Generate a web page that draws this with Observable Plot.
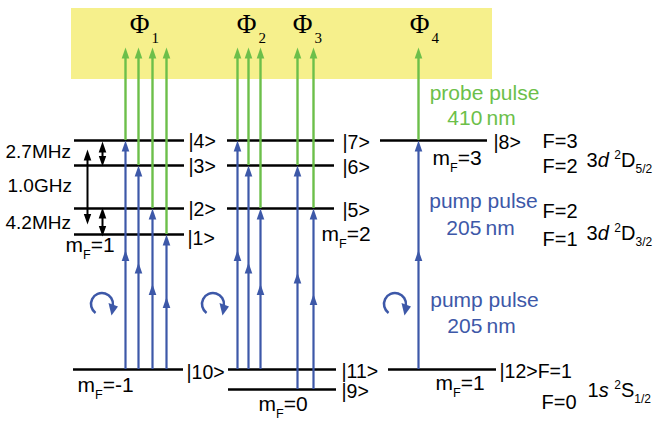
<!DOCTYPE html>
<html><head><meta charset="utf-8">
<script src="https://cdn.jsdelivr.net/npm/d3@7"></script>
<script src="https://cdn.jsdelivr.net/npm/@observablehq/plot@0.6"></script>
<style>html,body{margin:0;padding:0;background:#fff}#chart svg{display:block}</style>
</head><body><div id="chart"></div>
<script>
// ---- energies (diagram units, larger = lower on page) ----
const E = {D52_F3: 140, D52_F2: 165, D32_F2: 208, D32_F1: 234, S12_F1: 369, S12_F0: 389, ion: 47};

// detection region
const detectBox = [{x1: 71, x2: 492, y1: 8, y2: 79}];

// hyperfine sub-levels (horizontal lines)
const levelLines = [
  {x1: 74, x2: 184, y: E.D52_F3}, {x1: 74, x2: 184, y: E.D52_F2},
  {x1: 74, x2: 184, y: E.D32_F2}, {x1: 74, x2: 184, y: E.D32_F1},
  {x1: 73, x2: 183, y: E.S12_F1},
  {x1: 227, x2: 334, y: E.D52_F3}, {x1: 227, x2: 334, y: E.D52_F2},
  {x1: 227, x2: 334, y: E.D32_F2},
  {x1: 228, x2: 336, y: E.S12_F1}, {x1: 228, x2: 336, y: E.S12_F0},
  {x1: 380, x2: 487, y: E.D52_F3},
  {x1: 388, x2: 496, y: E.S12_F1}
];

// two-photon pump transitions (blue) 205 nm
const pumps = [
  {x: 125, from: E.S12_F1, to: E.D52_F3}, {x: 138, from: E.S12_F1, to: E.D52_F2},
  {x: 152, from: E.S12_F1, to: E.D32_F2}, {x: 166, from: E.S12_F1, to: E.D32_F1},
  {x: 237, from: E.S12_F1, to: E.D52_F3}, {x: 248, from: E.S12_F1, to: E.D52_F2},
  {x: 260, from: E.S12_F1, to: E.D32_F2},
  {x: 297, from: E.S12_F0, to: E.D52_F2}, {x: 313, from: E.S12_F0, to: E.D32_F2},
  {x: 418, from: E.S12_F1, to: E.D52_F3}
];

// probe ionisation transitions (green) 410 nm
const probes = pumps.map(p => ({x: p.x, from: p.to, to: E.ion}));

// hyperfine splitting markers
const splitArrows = [
  {x: 102, y1: 141, y2: 166}, {x: 87, y1: 149, y2: 224}, {x: 102, y1: 207, y2: 236}
];
const splitLabels = [
  {x: 5, y: 151, text: "2.7MHz"}, {x: 7, y: 185, text: "1.0GHz"}, {x: 5, y: 222, text: "4.2MHz"}
];

// circular polarisation symbols
const curls = [{x: 101.5, y: 303.5}, {x: 212.5, y: 303.5}, {x: 394.5, y: 303.5}];

// labels
const ketLabels = [
  {x: 188, y: 141, text: "|4>"}, {x: 188, y: 166, text: "|3>"}, {x: 188, y: 209, text: "|2>"},
  {x: 187, y: 238, text: "|1>"}, {x: 186, y: 372, text: "|10>"},
  {x: 342, y: 142, text: "|7>"}, {x: 342, y: 167, text: "|6>"}, {x: 342, y: 210, text: "|5>"},
  {x: 341, y: 371, text: "|11>"}, {x: 341, y: 391, text: "|9>"},
  {x: 493, y: 142, text: "|8>"}, {x: 499, y: 371, text: "|12>F=1"}
];
const fLabels = [
  {x: 542, y: 141, text: "F=3"}, {x: 542, y: 166, text: "F=2"},
  {x: 542, y: 211, text: "F=2"}, {x: 542, y: 239, text: "F=1"},
  {x: 541, y: 402, text: "F=0"}
];
const termLabels = [
  {x: 586, y: 160, text: "3*d* ^{2}D_{5/2}"},
  {x: 586, y: 233, text: "3*d* ^{2}D_{3/2}"},
  {x: 587, y: 390, text: "1*s* ^{2}S_{1/2}"}
];
const mfLabels = [
  {x: 65, y: 245, text: "m_{F}=1"}, {x: 77, y: 385, text: "m_{F}=-1"},
  {x: 321, y: 234, text: "m_{F}=2"}, {x: 258, y: 404, text: "m_{F}=0"},
  {x: 432, y: 158, text: "m_{F}=3"}, {x: 435, y: 383, text: "m_{F}=1"}
];
const probeLabels = [{x: 484, y: 93, text: "probe pulse"}, {x: 481, y: 118, text: "410\u2009nm"}];
const pumpLabels = [
  {x: 483, y: 201, text: "pump pulse"}, {x: 480, y: 228, text: "205\u2009nm"},
  {x: 484, y: 300, text: "pump pulse"}, {x: 481, y: 326, text: "205\u2009nm"}
];
const phiLabels = [{x: 139, sub: "1"}, {x: 246, sub: "2"}, {x: 302, sub: "3"}, {x: 419, sub: "4"}];

// ---- styles ----
const BLUE = "#3d58a8", GREEN = "#6cbf4a", YELLOW = "#f6f08c";
const SANS = "Liberation Sans, Arial, Helvetica, sans-serif";
const SERIF = "Liberation Serif, Times New Roman, serif";

const headUp = {draw(c) { c.moveTo(0, 0); c.lineTo(3.8, 11); c.lineTo(-3.8, 11); c.closePath(); }};
const headDown = {draw(c) { c.moveTo(0, 0); c.lineTo(3.7, -10.5); c.lineTo(-3.7, -10.5); c.closePath(); }};
const curlArc = {draw(c) { const r = 11, a0 = 126 * Math.PI / 180, a1 = 367 * Math.PI / 180;
  c.moveTo(r * Math.cos(a0), r * Math.sin(a0)); c.arc(0, 0, r, a0, a1); }};
const curlHead = {draw(c) { c.moveTo(6.5, -1); c.lineTo(16, 2.5); c.lineTo(9.5, 11.5); c.closePath(); }};

const txt = (data, o) => Plot.text(data, {x: "x", y: "y", text: "text", textAnchor: "start",
  fontFamily: SANS, fill: "black", ...o});

const chart = Plot.plot({
  width: 659, height: 422,
  marginTop: 0, marginRight: 0, marginBottom: 0, marginLeft: 0,
  x: {domain: [0, 659], range: [0, 659], axis: null},
  y: {domain: [0, 422], range: [0, 422], axis: null},
  marks: [
    Plot.rect(detectBox, {x1: "x1", x2: "x2", y1: "y1", y2: "y2", fill: YELLOW}),
    Plot.ruleY(levelLines, {y: "y", x1: "x1", x2: "x2", stroke: "black", strokeWidth: 2.6}),
    // probe (green)
    Plot.ruleX(probes, {x: "x", y1: "from", y2: d => d.to + 6, stroke: GREEN, strokeWidth: 2.4}),
    Plot.dot(probes, {x: "x", y: "to", symbol: headUp, r: 4, fill: GREEN, stroke: "none"}),
    // pump (blue)
    Plot.ruleX(pumps, {x: "x", y1: "from", y2: d => d.to + 6, stroke: BLUE, strokeWidth: 2.2}),
    Plot.dot(pumps, {x: "x", y: "to", symbol: headUp, r: 4, fill: BLUE, stroke: "none"}),
    Plot.dot(pumps, {x: "x", y: d => (d.from + d.to) / 2 - 5, symbol: headUp, r: 4, fill: BLUE, stroke: "none"}),
    // splitting arrows
    Plot.ruleX(splitArrows, {x: "x", y1: d => d.y1 + 5, y2: d => d.y2 - 5, stroke: "black", strokeWidth: 2}),
    Plot.dot(splitArrows, {x: "x", y: "y1", symbol: headUp, r: 4, fill: "black", stroke: "none"}),
    Plot.dot(splitArrows, {x: "x", y: "y2", symbol: headDown, r: 4, fill: "black", stroke: "none"}),
    // polarisation curls
    Plot.dot(curls, {x: "x", y: "y", symbol: curlArc, r: 4, fill: "none", stroke: BLUE, strokeWidth: 2.5}),
    Plot.dot(curls, {x: "x", y: "y", symbol: curlHead, r: 4, fill: BLUE, stroke: "none"}),
    // labels
    txt(splitLabels, {fontSize: 19}),
    txt(ketLabels, {fontSize: 19.5}),
    txt(fLabels, {fontSize: 20}),
    txt(termLabels, {fontSize: 20}),
    txt(mfLabels, {fontSize: 21}),
    txt(probeLabels, {fontSize: 21, fill: GREEN, textAnchor: "middle"}),
    txt(pumpLabels, {fontSize: 21, fill: BLUE, textAnchor: "middle"}),
    Plot.text(phiLabels, {x: "x", y: () => 24, text: () => "\u03A6", fontFamily: SERIF, fontSize: 27, fill: "black"}),
    Plot.text(phiLabels, {x: "x", y: () => 38, text: "sub", dx: 12, textAnchor: "start", fontFamily: SERIF, fontSize: 15, fill: "black"})
  ]
});
document.getElementById("chart").appendChild(chart);

// rich text: _{sub}, ^{sup}, *italic*
(function enrich(svg) {
  const NS = "http://www.w3.org/2000/svg";
  svg.querySelectorAll("text").forEach(el => {
    const s = el.textContent;
    if (!/[_^]\{|\*/.test(s)) return;
    const fs = parseFloat(getComputedStyle(el).fontSize);
    el.textContent = "";
    const re = /([_^])\{([^}]*)\}|\*([^*]+)\*|([^_^*]+)/g;
    let m, cur = 0;
    while ((m = re.exec(s))) {
      const t = document.createElementNS(NS, "tspan");
      let shift = 0, str;
      if (m[1]) {
        shift = m[1] === "_" ? 0.3 * fs : -0.42 * fs;
        t.setAttribute("font-size", (0.6 * fs) + "px");
        str = m[2];
      } else if (m[3]) { t.setAttribute("font-style", "italic"); str = m[3]; }
      else str = m[4];
      const dy = shift - cur;
      if (dy) t.setAttribute("dy", dy.toFixed(2));
      cur = shift;
      t.textContent = str;
      el.appendChild(t);
    }
  });
})(chart);
</script>
</body></html>
